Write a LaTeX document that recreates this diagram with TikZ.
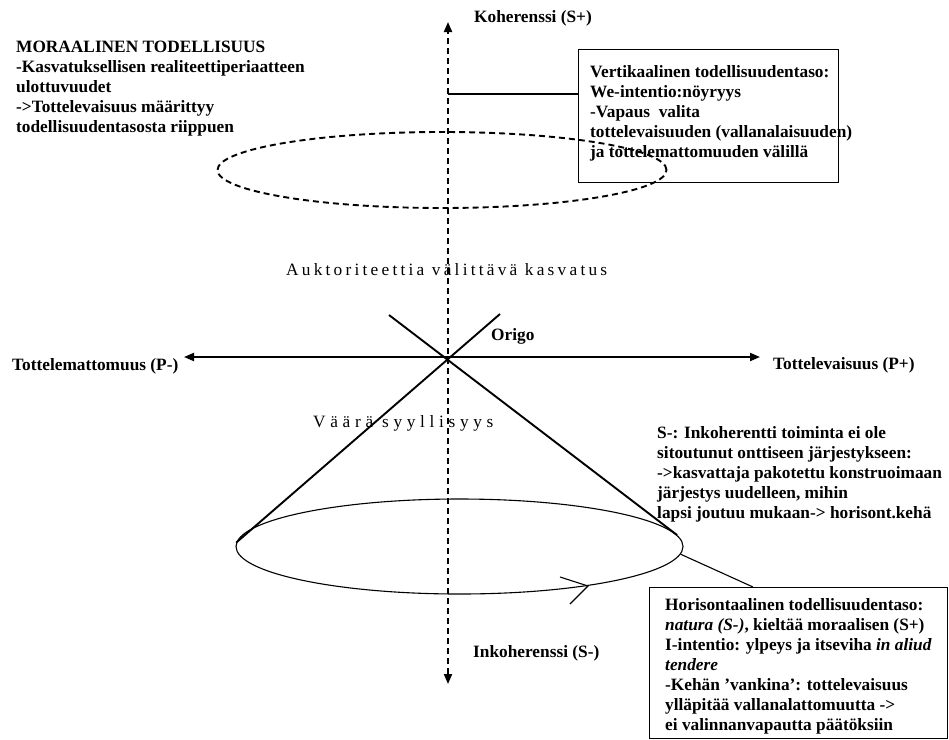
\documentclass[tikz,border=0pt]{standalone}
\usepackage{fontspec}
\setmainfont{Liberation Serif}
\newfontfamily\spacedAfam[LetterSpace=18.7]{Liberation Serif}
\newfontfamily\spacedBfam[LetterSpace=27]{Liberation Serif}
\usetikzlibrary{arrows.meta,shapes.geometric,calc}
\begin{document}
\begin{tikzpicture}[x=1pt,y=-1pt,
  lbl/.style={inner sep=0pt, font=\fontsize{17.3}{20}\selectfont\bfseries},
  para/.style={lbl, align=left, anchor=north west},
  spaced/.style={inner sep=0pt, anchor=west},
  axisline/.style={line width=1.9pt},
  dashline/.style={line width=1.9pt, dash pattern=on 6pt off 4pt},
  thinline/.style={line width=1.1pt},
  boxed/.style={draw, line width=1.2pt, inner sep=0pt, anchor=north west},
  >={Triangle[length=10pt,width=8pt]}
]
\useasboundingbox (0,0) rectangle (949,739);

% boxes
\node[boxed, minimum width=260pt, minimum height=133pt] (vbox) at (578,49) {};
\node[boxed, minimum width=298pt, minimum height=151pt] (hbox) at (649,587) {};

% ellipses
\node[ellipse, draw, thinline, minimum width=447pt, minimum height=95pt, inner sep=0pt] (keha) at (459.5,546.5) {};
\node[ellipse, draw, dashline, minimum width=449pt, minimum height=76pt, inner sep=0pt] (yla) at (442,170) {};

% axes
\coordinate (O) at (448,357);
\coordinate (Ktop) at (448,22);
\coordinate (Kbot) at (448,684);
\coordinate (Pl) at (184,357);
\coordinate (Pr) at (760,357);
\draw[dashline,<->] (Kbot) -- (Ktop);
\draw[axisline,<->] (Pl) -- (Pr);

% cone / cross lines
\coordinate (Xa) at (389,315);
\coordinate (Xb) at (500,314);
\draw[axisline] (Xb) -- (keha.179);
\draw[axisline] (Xa) -- (keha.3.5);

% arrow on the circle
\draw[thinline] (560,577) -- (588,586) -- (570,604);

% connectors
\coordinate (Kv) at (448,94);
\draw[thinline] (Kv) -- ($(vbox.north west)+(0,45)$);
\draw[thinline] (keha.-2.8) -- ($(hbox.north west)+(104,0)$);

% texts
\node[para] (moral) at (16,41) {MORAALINEN TODELLISUUS\\-Kasvatuksellisen realiteettiperiaatteen\\ulottuvuudet\\->Tottelevaisuus määrittyy\\todellisuudentasosta riippuen};
\node[para] (vtext) at (590,65.5) {Vertikaalinen todellisuudentaso:\\We-intentio:nöyryys\\-Vapaus\ \ valita\\tottelevaisuuden (vallanalaisuuden)\\ja tottelemattomuuden välillä};
\node[para] (stext) at (657,426.5) {S-: Inkoherentti toiminta ei ole\\sitoutunut onttiseen järjestykseen:\\->kasvattaja pakotettu konstruoimaan\\järjestys uudelleen, mihin\\lapsi joutuu mukaan-> horisont.kehä};
\node[para] (htext) at (665,598.5) {Horisontaalinen todellisuudentaso:\\\textit{natura (S-)}, kieltää moraalisen (S+)\\I-intentio: ylpeys ja itseviha \textit{in aliud}\\\textit{tendere}\\-Kehän ’vankina’: tottelevaisuus\\ylläpitää vallanalattomuutta ->\\ei valinnanvapautta päätöksiin};

\node[lbl, anchor=west] (koh) at (474,18) {Koherenssi (S+)};
\node[lbl, anchor=west] (inkoh) at (473,653) {Inkoherenssi (S-)};
\node[lbl, anchor=west] (pminus) at (12,366) {Tottelemattomuus (P-)};
\node[lbl, anchor=west] (pplus) at (773,365) {Tottelevaisuus (P+)};
\node[lbl, anchor=west] (origo) at (491,336) {Origo};
\node[spaced, font=\spacedAfam\fontsize{17.3}{20}\selectfont] (auk) at (286,270) {Auktoriteettia välittävä kasvatus};
\node[spaced, font=\spacedBfam\fontsize{17.3}{20}\selectfont] (vaara) at (313,423) {Väärä syyllisyys};
\end{tikzpicture}
\end{document}
